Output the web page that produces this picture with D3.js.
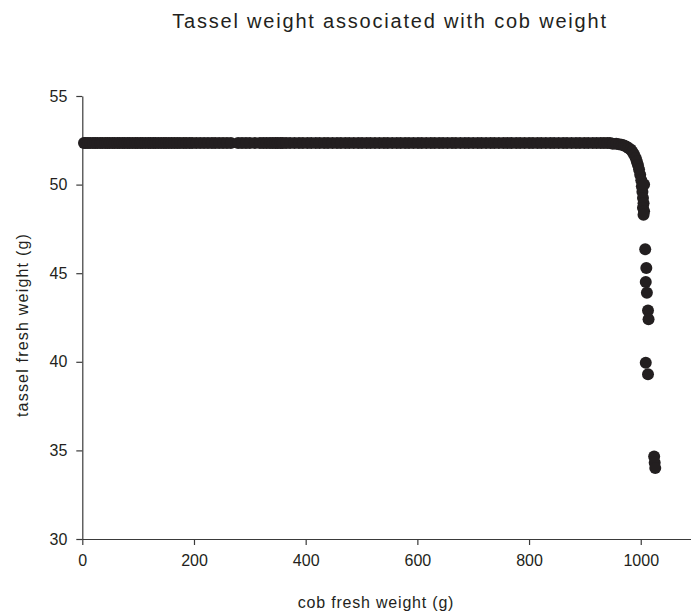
<!DOCTYPE html>
<html><head><meta charset="utf-8">
<script src="https://cdn.jsdelivr.net/npm/d3@7"></script>
<style>body{margin:0;background:#fff}svg{display:block}text{font-family:"Liberation Sans",Arial,sans-serif;fill:#231f20}</style>
</head><body><svg id="c" width="691" height="616"></svg>
<script>
const title = "Tassel weight associated with cob weight";
const xLabel = "cob fresh weight (g)";
const yLabel = "tassel fresh weight (g)";
const xTicks = [0, 200, 400, 600, 800, 1000];
const yTicks = [30, 35, 40, 45, 50, 55];

// plateau: cob fresh weight (g), tassel fresh weight ~52.35 g
const plateauCob = [
  3,6,10,14,19,23,27,32,36,41,45,49,54,58,63,67,72,76,81,85,90,95,99,104,108,113,118,122,127,131,136,141,146,150,155,160,165,170,175,181,186,192,197,
  204,211,218,225,232,238,245,252,259,266,279,286,293,300,309,318,324,330,336,341,346,350,355,359,
  365,372,380,388,395,403,410,418,425,433,440,448,456,463,471,478,486,494,501,509,516,524,532,540,547,555,563,570,578,585,593,601,608,616,624,631,639,646,654,662,669,677,685,692,700,708,715,723,731,738,746,754,761,769,777,784,792,800,807,815,822,830,838,845,853,861,868,876,884,891,899,906,914,921,928,934,940,945
];
const plateauTassel = 52.35;

// bend and drop: [cob fresh weight, tassel fresh weight]
const dropPoints = [
  [950,52.31],[956,52.3],[961,52.28],[966,52.25],[970,52.2],[974,52.15],[978,52.07],[982,51.98],
  [985,51.85],[988,51.7],[991,51.5],[993,51.3],[995,51.1],[997,50.85],[999,50.55],[1001,50.25],
  [1002,49.9],[1003,49.6],[1004,49.25],[1005,48.95],[1004,48.7],[1006,48.5],[1005,48.3],[1006,50.0],
  [1008,46.35],[1010,45.3],[1009,44.5],[1011,43.9],[1013,42.9],[1014,42.4],[1009,39.95],[1013,39.3],
  [1024,34.65],[1025,34.3],[1026,34.0]
];

const svg = d3.select("#c");
const x = d3.scaleLinear().domain([0, 1090]).range([82.3, 691]);
const y = d3.scaleLinear().domain([30, 55]).range([539, 96]);
const axColor = "#3a3a3a";

const gx = svg.append("g").attr("transform", `translate(0,${y(30)})`)
  .call(d3.axisBottom(x).tickValues(xTicks).tickFormat(d3.format("d")).tickSize(6).tickPadding(10).tickSizeOuter(0));
const gy = svg.append("g").attr("transform", `translate(${x(0)},0)`)
  .call(d3.axisLeft(y).tickValues(yTicks).tickFormat(d3.format("d")).tickSize(6).tickPadding(9).tickSizeOuter(0));
[gx, gy].forEach(g => {
  g.select(".domain").attr("stroke", axColor).attr("stroke-width", 1.2);
  g.selectAll(".tick line").attr("stroke", axColor).attr("stroke-width", 1.2);
  g.selectAll(".tick text").attr("font-size", 16).attr("font-family", "Liberation Sans, Arial, sans-serif").attr("fill", "#231f20");
});

const pts = plateauCob.map(c => ({c, t: plateauTassel}))
  .concat(dropPoints.map(([c, t]) => ({c, t})));
svg.append("g").selectAll("circle").data(pts).join("circle")
  .attr("cx", d => x(d.c)).attr("cy", d => y(d.t)).attr("r", 6)
  .attr("fill", "#231f20");

svg.append("text").attr("x", 390).attr("y", 28).attr("text-anchor", "middle")
  .attr("font-size", 20).attr("letter-spacing", 1.8).text(title);
svg.append("text").attr("x", 376).attr("y", 608).attr("text-anchor", "middle")
  .attr("font-size", 16).attr("letter-spacing", 0.8).text(xLabel);
svg.append("text").attr("transform", "translate(28,325) rotate(-90)").attr("text-anchor", "middle")
  .attr("font-size", 16).attr("letter-spacing", 1.2).text(yLabel);
</script></body></html>
